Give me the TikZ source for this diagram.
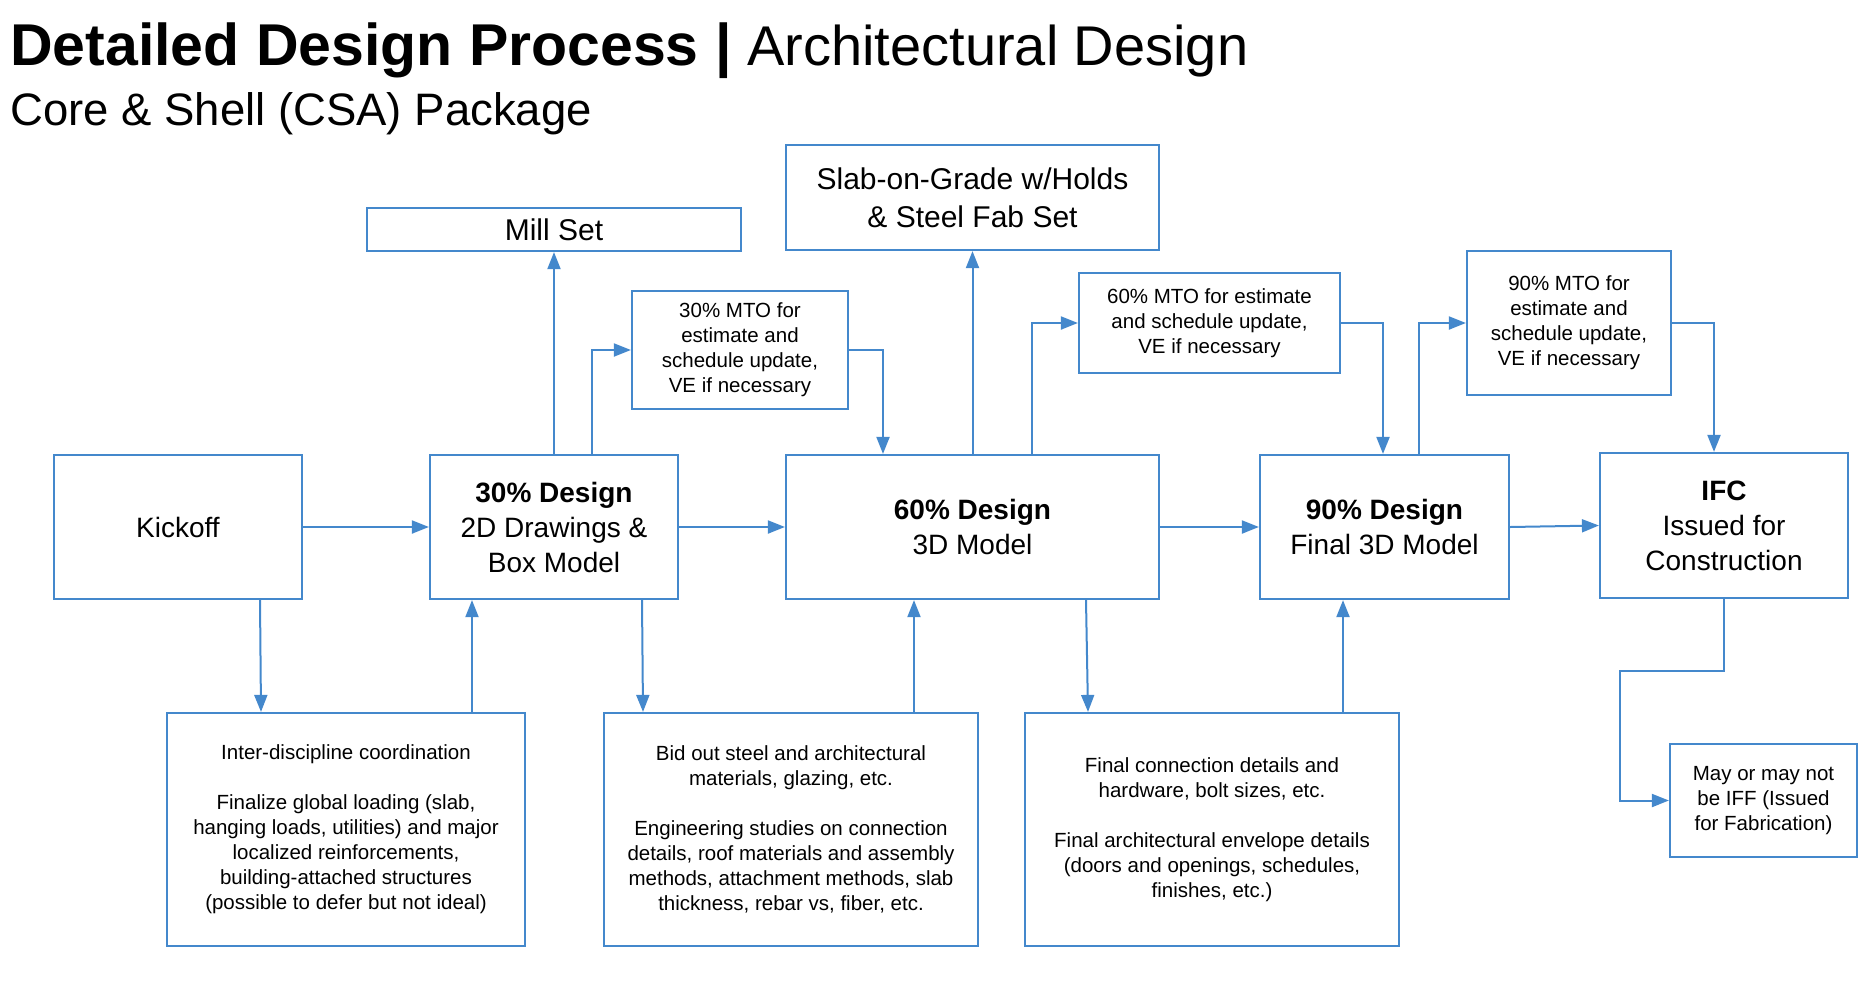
\documentclass[tikz,border=0pt]{standalone}
\usepackage{fontspec}
\setmainfont{Liberation Sans}
\usetikzlibrary{arrows.meta}
\definecolor{lineblue}{RGB}{68,136,204}

\begin{document}
\begin{tikzpicture}[x=1pt, y=-1pt,
    stagebox/.style={draw=lineblue, line width=2.2pt, inner sep=0pt, align=center, font=\fontsize{28}{35}\selectfont},
    notebox/.style={stagebox, font=\fontsize{20.5}{25}\selectfont},
    flow/.style={draw=lineblue, line width=2pt, -{Triangle[length=17pt,width=13pt]}}]
    \useasboundingbox (0,0) rectangle (1874,983);
    % heading
    \node[anchor=base west, inner sep=0pt, font=\fontsize{56}{68}\selectfont] (title) at (10,65) {{\fontsize{59}{68}\selectfont\bfseries Detailed Design Process |} Architectural Design};
    \node[anchor=base west, inner sep=0pt, font=\fontsize{45.5}{54}\selectfont] (subtitle) at (10,125) {Core \& Shell (CSA) Package};
    % main row
    \node[stagebox, minimum width=248pt, minimum height=144pt] (kickoff) at (178,527) {Kickoff};
    \node[stagebox, minimum width=248pt, minimum height=144pt] (d30) at (554,527) {\textbf{30\% Design}\\2D Drawings \&\\Box Model};
    \node[stagebox, minimum width=373pt, minimum height=144pt] (d60) at (972.5,527) {\textbf{60\% Design}\\3D Model};
    \node[stagebox, minimum width=249pt, minimum height=144pt] (d90) at (1384.5,527) {\textbf{90\% Design}\\Final 3D Model};
    \node[stagebox, minimum width=248pt, minimum height=145pt] (ifc) at (1724,525.5) {\textbf{IFC}\\Issued for\\Construction};
    % upper row
    \node[stagebox, minimum width=374pt, minimum height=43pt, font=\fontsize{30}{38}\selectfont] (mill) at (554,229.5) {Mill Set};
    \node[stagebox, minimum width=373pt, minimum height=105pt, font=\fontsize{30}{38}\selectfont] (slab) at (972.5,197.5) {Slab-on-Grade w/Holds\\\& Steel Fab Set};
    \node[notebox, minimum width=216pt, minimum height=118pt] (mto30) at (740,350) {30\% MTO for\\estimate and\\schedule update,\\VE if necessary};
    \node[notebox, minimum width=261pt, minimum height=100pt] (mto60) at (1209.5,323) {60\% MTO for estimate\\and schedule update,\\VE if necessary};
    \node[notebox, minimum width=204pt, minimum height=144pt] (mto90) at (1569,323) {90\% MTO for\\estimate and\\schedule update,\\VE if necessary};
    % lower row
    \node[notebox, minimum width=358pt, minimum height=233pt] (note1) at (346,829.5) {Inter-discipline coordination\\[25pt]Finalize global loading (slab,\\hanging loads, utilities) and major\\localized reinforcements,\\building-attached structures\\(possible to defer but not ideal)};
    \node[notebox, minimum width=374pt, minimum height=233pt] (note2) at (791,829.5) {Bid out steel and architectural\\materials, glazing, etc.\\[25pt]Engineering studies on connection\\details, roof materials and assembly\\methods, attachment methods, slab\\thickness, rebar vs, fiber, etc.};
    \node[notebox, minimum width=374pt, minimum height=233pt] (note3) at (1212,829.5) {Final connection details and\\hardware, bolt sizes, etc.\\[25pt]Final architectural envelope details\\(doors and openings, schedules,\\finishes, etc.)};
    \node[notebox, minimum width=187pt, minimum height=113pt] (iff) at (1763.5,800.5) {May or may not\\be IFF (Issued\\for Fabrication)};
    \coordinate (bend) at (1620,671);
    % connectors
    \draw[flow] (kickoff.east) -- (d30.west);
    \draw[flow] (d30.east) -- (d60.west);
    \draw[flow] (d60.east) -- (d90.west);
    \draw[flow] (d90.east) -- (ifc.west);
    \draw[flow] (d30.north) -- (mill.south);
    \draw[flow] (d60.north) -- (slab.south);
    \draw[flow] ([xshift=38pt]d30.north) |- (mto30.west);
    \draw[flow] (mto30.east) -| ([xshift=-89.5pt]d60.north);
    \draw[flow] ([xshift=59.5pt]d60.north) |- (mto60.west);
    \draw[flow] (mto60.east) -| ([xshift=-1.5pt]d90.north);
    \draw[flow] ([xshift=34.5pt]d90.north) |- (mto90.west);
    \draw[flow] (mto90.east) -| ([xshift=-10pt]ifc.north);
    \draw[flow] ([xshift=82pt]kickoff.south) -- ([xshift=-85pt]note1.north);
    \draw[flow] ([xshift=126pt]note1.north) -- ([xshift=-82pt]d30.south);
    \draw[flow] ([xshift=88pt]d30.south) -- ([xshift=-148pt]note2.north);
    \draw[flow] ([xshift=123pt]note2.north) -- ([xshift=-58.5pt]d60.south);
    \draw[flow] ([xshift=113.5pt]d60.south) -- ([xshift=-124pt]note3.north);
    \draw[flow] ([xshift=131pt]note3.north) -- ([xshift=-41.5pt]d90.south);
    \draw[flow] (ifc.south) |- (bend) |- (iff.west);
\end{tikzpicture}
\end{document}
